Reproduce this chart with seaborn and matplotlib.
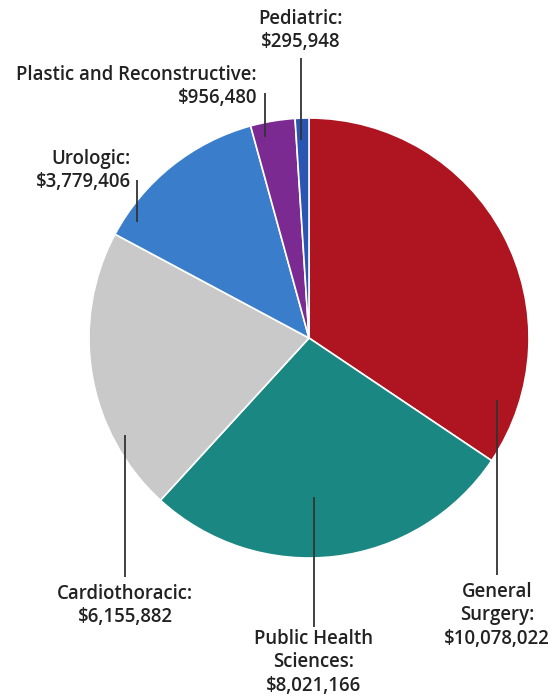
import matplotlib
matplotlib.use("Agg")
import matplotlib.pyplot as plt
import seaborn as sns

categories = ["General Surgery", "Public Health Sciences", "Cardiothoracic",
              "Urologic", "Plastic and Reconstructive", "Pediatric"]
values = [10078022, 8021166, 6155882, 3779406, 956480, 295948]
labels = ["General\nSurgery:\n$10,078,022",
          "Public Health\nSciences:\n$8,021,166",
          "Cardiothoracic:\n$6,155,882",
          "Urologic:\n$3,779,406",
          "Plastic and Reconstructive:\n$956,480",
          "Pediatric:\n$295,948"]
colors = ["#AE1520", "#1B8783", "#C9C9C9", "#3A7ECB", "#7A2A90", "#2B55B3"]

sns.set_theme(style="white")
plt.rcParams['font.family'] = ['Open Sans', 'DejaVu Sans']

W, H = 555, 698
fig = plt.figure(figsize=(W / 100, H / 100), dpi=100)
ax = fig.add_axes([0, 0, 1, 1])
ax.set_xlim(0, W)
ax.set_ylim(0, H)
ax.set_aspect("equal")
ax.axis("off")

cx, cy, r = 309, H - 338, 220
ax.pie(values, colors=colors, startangle=90, counterclock=False,
       center=(cx, cy), radius=r,
       wedgeprops=dict(edgecolor="white", linewidth=1.2))
ax.set_xlim(0, W)
ax.set_ylim(0, H)

# label layout: (text x, text top y, ha, line x, line y0, line y1)  in pixels from top
layout = [
    (497, 582, "center", 497, 400, 575),
    (314, 629, "center", 314, 497, 627),
    (125, 584, "center", 125, 435, 577),
    (131, 149, "right", 137, 180, 222),
    (257, 65, "right", 265, 93, 137),
    (301, 9, "center", 301, 58, 140),
]
for lab, (tx, ty, ha, lx, ly0, ly1) in zip(labels, layout):
    ax.plot([lx, lx], [H - ly0, H - ly1], color="#333333", lw=1.3, solid_capstyle="butt")
    ax.text(tx, H - ty, lab, ha=ha, va="top", fontsize=13.4, fontweight="semibold",
            color="#222222", linespacing=1.22, multialignment=ha)

fig.savefig("out.png", dpi=100, facecolor="white")
